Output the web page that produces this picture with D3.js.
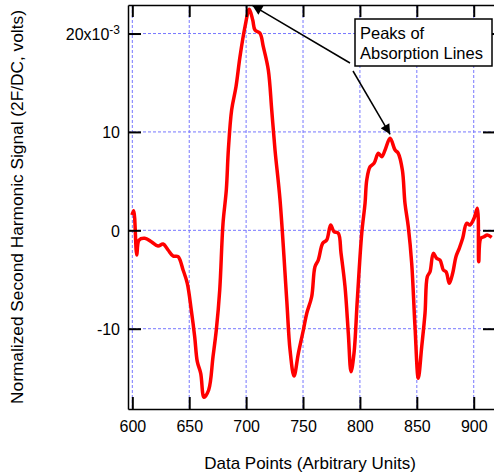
<!DOCTYPE html>
<html>
<head>
<meta charset="utf-8">
<script src="https://cdn.jsdelivr.net/npm/d3@7"></script>
<style>
  body { margin: 0; background: #fff; }
  svg { font-family: "Liberation Sans", Arial, sans-serif; }
</style>
</head>
<body>
<svg id="chart" width="494" height="476"></svg>
<script>
// data points (x in arbitrary units, y in 1e-3 volts)
const pointX = [599.7, 601.2, 603.9, 605.9, 610.9, 616.7, 622.6, 627.0, 631.4, 635.8, 640.2, 644.6, 648.3,
  651.8, 654.8, 657.1, 660.1, 663.0, 667.1, 670.9, 673.8, 676.8, 679.7, 682.6, 684.4, 687.3, 691.1, 694.6,
  699.0, 702.8, 705.8, 707.8, 712.2, 715.1, 719.5, 722.5, 725.4, 729.8, 735.7, 738.6, 742.1, 745.9, 750.3,
  753.3, 757.6, 760.5, 763.4, 767.3, 770.8, 774.3, 777.2, 781.0, 783.4, 786.9, 789.8, 792.2, 794.8, 797.7,
  801.6, 804.5, 806.0, 808.9, 812.4, 816.2, 819.2, 822.1, 826.5, 830.9, 833.7, 837.3, 839.6, 842.5, 845.5,
  848.4, 851.3, 854.3, 857.2, 859.2, 861.6, 864.5, 867.5, 870.4, 873.3, 875.7, 878.6, 881.5, 884.4, 887.3,
  890.3, 893.8, 896.7, 900.3, 903.2, 904.4, 906.2, 909.1, 911.9, 915.8];
const pointY = [1.55, 1.99, -2.51, -0.99, -0.81, -1.16, -1.60, -1.39, -2.00, -2.61, -2.68, -4.03, -5.39,
  -8.10, -10.81, -13.35, -14.53, -16.97, -16.23, -12.85, -10.13, -6.07, 0.71, 4.10, 8.19, 12.25, 14.59, 17.64,
  20.69, 22.46, 21.37, 20.35, 20.02, 18.66, 16.29, 12.23, 8.16, 3.08, -7.09, -12.17, -14.81, -12.50, -10.13,
  -8.43, -6.75, -3.70, -3.02, -1.32, -0.99, 0.54, -0.14, -0.30, -2.34, -5.73, -10.47, -14.37, -12.50, -7.08,
  -0.30, 2.74, 5.11, 6.46, 6.81, 7.83, 7.48, 8.16, 9.35, 8.16, 7.83, 6.13, 2.74, 0.37, -3.35,
  -9.80, -15.04, -11.83, -8.43, -4.72, -4.21, -2.34, -2.85, -3.02, -4.03, -4.21, -5.39, -4.37, -2.68, -1.83,
  -0.81, 0.71, 0.54, 1.22, 2.24, -3.19, -0.81, -0.65, -0.48, -0.71];

const xTicks = [600, 650, 700, 750, 800, 850, 900];
const yTicks = [-10, 0, 10, 20];
const yTickLabels = ['-10', '0', '10', '20'];

// annotation: peaks the arrows point to
const peakX = [702.8, 826.5];
const peakY = [22.46, 9.35];

const svg = d3.select('#chart');
const mLeft = 128, mRight = 495, mTop = 5, mBottom = 409;

const x = d3.scaleLinear().domain([596.2, 918.7]).range([mLeft, mRight]);
const y = d3.scaleLinear().domain([-18.16, 22.9]).range([mBottom, mTop]);

// grid
const grid = svg.append('g').attr('stroke', '#7777ff').attr('stroke-width', 1).attr('stroke-dasharray', '3,2');
grid.selectAll('.gx').data(xTicks).enter().append('line')
  .attr('x1', d => x(d)).attr('x2', d => x(d)).attr('y1', mTop).attr('y2', mBottom);
grid.selectAll('.gy').data(yTicks).enter().append('line')
  .attr('y1', d => y(d)).attr('y2', d => y(d)).attr('x1', mLeft).attr('x2', mRight);

// curve
const line = d3.line()
  .x((d, i) => x(pointX[i]))
  .y((d, i) => y(pointY[i]))
  .curve(d3.curveCatmullRom.alpha(0.5));
svg.append('path')
  .attr('d', line(pointX))
  .attr('fill', 'none')
  .attr('stroke', '#ff0000')
  .attr('stroke-width', 3.5)
  .attr('stroke-linejoin', 'round');

// axes
function styleAxis(g) {
  g.select('.domain').attr('stroke', '#000').attr('stroke-width', 1.5);
  g.selectAll('.tick line').attr('stroke', '#000').attr('stroke-width', 2);
  g.selectAll('.tick text').attr('fill', '#000').style('font-size', '16px');
}

svg.append('g')
  .attr('transform', `translate(0,${mBottom})`)
  .call(d3.axisBottom(x).tickValues(xTicks).tickSizeInner(-12).tickSizeOuter(0).tickPadding(12))
  .call(styleAxis);

svg.append('g')
  .attr('transform', `translate(0,${mTop})`)
  .call(d3.axisTop(x).tickValues(xTicks).tickSizeInner(-12).tickSizeOuter(0).tickFormat(''))
  .call(styleAxis);

const yAxis = svg.append('g')
  .attr('transform', `translate(${mLeft},0)`)
  .call(d3.axisLeft(y).tickValues(yTicks).tickSizeInner(-13).tickSizeOuter(0).tickPadding(8)
    .tickFormat((d, i) => yTickLabels[i]))
  .call(styleAxis);
yAxis.selectAll('.tick text').attr('dy', '0.36em');
// exponent on top label
yAxis.selectAll('.tick text').filter(d => d === 20).each(function () {
  const t = d3.select(this);
  t.text('20x10');
  t.append('tspan').attr('dy', '-0.45em').style('font-size', '12px').text('-3');
});

svg.append('g')
  .attr('transform', `translate(${mRight},0)`)
  .call(d3.axisRight(y).tickValues(yTicks).tickSizeInner(-12).tickSizeOuter(0).tickFormat(''))
  .call(styleAxis);

// titles
svg.append('text')
  .attr('x', 310).attr('y', 469)
  .attr('text-anchor', 'middle')
  .style('font-size', '17px')
  .text('Data Points (Arbitrary Units)');

svg.append('text')
  .attr('transform', 'translate(23,207) rotate(-90)')
  .attr('text-anchor', 'middle')
  .style('font-size', '17.3px')
  .text('Normalized Second Harmonic Signal (2F/DC, volts)');

// annotation box
svg.append('defs').append('marker')
  .attr('id', 'arrow')
  .attr('viewBox', '0 0 10 10')
  .attr('refX', 10).attr('refY', 5)
  .attr('markerWidth', 15).attr('markerHeight', 10)
  .attr('markerUnits', 'userSpaceOnUse')
  .attr('orient', 'auto')
  .append('path').attr('d', 'M0,0L10,5L0,10Z').attr('fill', '#000');

const starts = [[350, 63], [353, 71]];
svg.selectAll('.arrow').data(peakX).enter().append('line')
  .attr('x1', (d, i) => starts[i][0]).attr('y1', (d, i) => starts[i][1])
  .attr('x2', (d, i) => x(d) + (i === 0 ? 3 : 0)).attr('y2', (d, i) => y(peakY[i]) - 4)
  .attr('stroke', '#000').attr('stroke-width', 1.5)
  .attr('marker-end', 'url(#arrow)');

svg.append('rect')
  .attr('x', 355).attr('y', 19).attr('width', 137).attr('height', 47)
  .attr('fill', '#fff').attr('stroke', '#000').attr('stroke-width', 1.5);
svg.append('text').attr('x', 360).attr('y', 39).style('font-size', '16.5px').text('Peaks of');
svg.append('text').attr('x', 360).attr('y', 59).style('font-size', '16.5px').text('Absorption Lines');
</script>
</body>
</html>
